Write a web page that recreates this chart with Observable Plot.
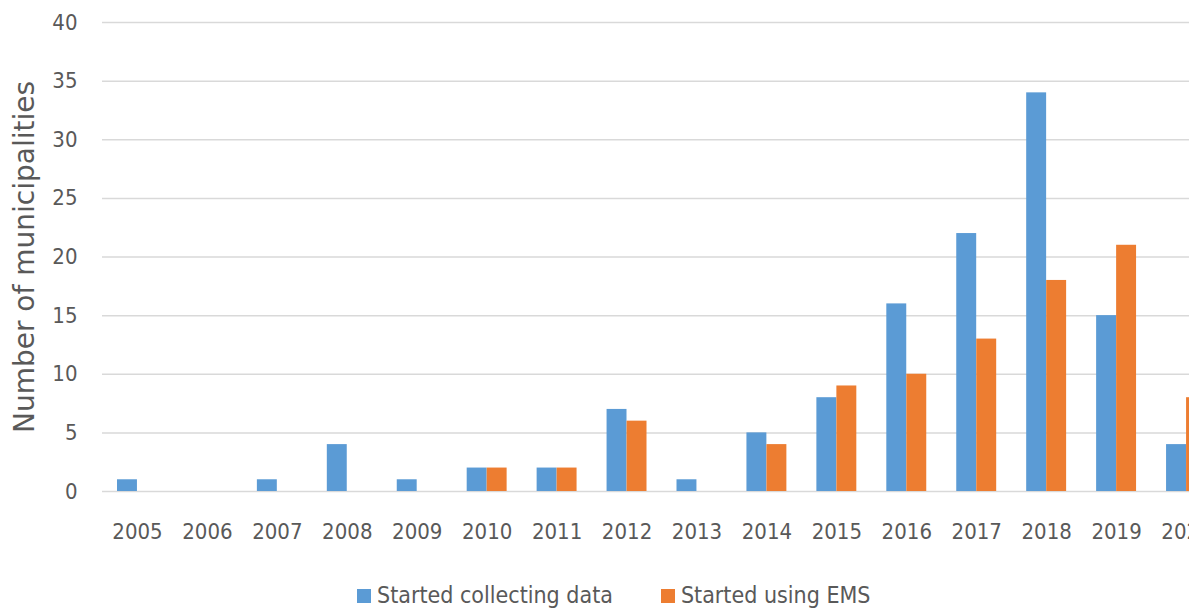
<!DOCTYPE html>
<html>
<head>
<meta charset="utf-8">
<script src="https://cdn.jsdelivr.net/npm/d3@7"></script>
<script src="https://cdn.jsdelivr.net/npm/@observablehq/plot@0.6"></script>
<style>
  html, body { margin: 0; padding: 0; overflow: hidden; background: #fff; width: 1189px; height: 616px; }
  #chart { position: relative; width: 1221px; }
  #chart svg { max-width: none !important; display: block; }
  .legend { position: absolute; top: 584px; left: 357px; display: flex; align-items: center;
    font-family: "DejaVu Sans Condensed", Lato, sans-serif; font-size: 23px; color: #595959; white-space: nowrap; line-height: 1; }
  .legend .sw { display: inline-block; width: 14px; height: 14px; margin-right: 6px; }
  .legend .item { display: flex; align-items: center; margin-right: 48px; }
</style>
</head>
<body>
<div id="chart"></div>
<script>
const years = ["2005","2006","2007","2008","2009","2010","2011","2012","2013","2014","2015","2016","2017","2018","2019","2020"];
const collecting = [1,0,1,4,1,2,2,7,1,5,8,16,22,34,15,4];
const usingEMS = [0,0,0,0,0,2,2,6,0,4,9,10,13,18,21,8];
const seriesNames = ["Started collecting data", "Started using EMS"];
const seriesColors = ["#5B9BD5", "#ED7D31"];
const yTicks = [0,5,10,15,20,25,30,35,40];

const dataA = years.map((y, i) => ({year: y, value: collecting[i]}));
const dataB = years.map((y, i) => ({year: y, value: usingEMS[i]}));

const font = '"DejaVu Sans Condensed", Lato, sans-serif';

const plot = Plot.plot({
  width: 1221,
  height: 565,
  marginLeft: 102,
  marginRight: 0,
  marginTop: 22,
  marginBottom: 74,
  style: {fontFamily: font, fontSize: "22px", color: "#595959", background: "#fff", overflow: "visible", maxWidth: "none"},
  x: {domain: years, range: [102, 1221], padding: 0, round: false, label: null, tickSize: 0, tickPadding: 32},
  y: {domain: [0, 40], ticks: yTicks, label: null, tickSize: 0, tickPadding: 25},
  marks: [
    Plot.ruleY(yTicks, {stroke: "#d9d9d9", strokeWidth: 1.5}),
    Plot.barY(dataA, {x: "year", y: "value", fill: seriesColors[0], insetLeft: 15, insetRight: 35}),
    Plot.barY(dataB, {x: "year", y: "value", fill: seriesColors[1], insetLeft: 35, insetRight: 15}),
    Plot.text(["Number of municipalities"], {frameAnchor: "left", textAnchor: "middle", dx: -77, rotate: -90, fontSize: 28, fontFamily: '"DejaVu Sans", sans-serif', fill: "#595959"})
  ]
});
document.getElementById("chart").appendChild(plot);

const legend = document.createElement("div");
legend.className = "legend";
seriesNames.forEach((name, i) => {
  const item = document.createElement("span");
  item.className = "item";
  const sw = document.createElement("span");
  sw.className = "sw";
  sw.style.background = seriesColors[i];
  item.appendChild(sw);
  item.appendChild(document.createTextNode(name));
  legend.appendChild(item);
});
document.getElementById("chart").appendChild(legend);
</script>
</body>
</html>
